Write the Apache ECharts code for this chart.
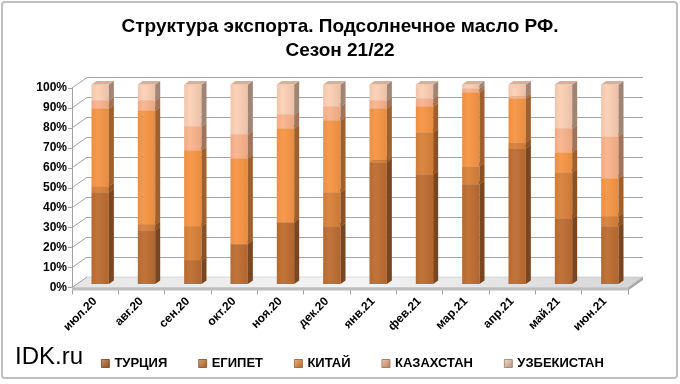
<!DOCTYPE html>
<html><head><meta charset="utf-8">
<script src="https://cdn.jsdelivr.net/npm/echarts@6/dist/echarts.min.js"></script>
<style>html,body{margin:0;padding:0;background:#fff}#c{width:680px;height:384px}</style>
</head><body><div id="c"></div><script>
// ---- data ----
const categories = ['июл.20','авг.20','сен.20','окт.20','ноя.20','дек.20','янв.21','фев.21','мар.21','апр.21','май.21','июн.21'];
const seriesNames = ['ТУРЦИЯ','ЕГИПЕТ','КИТАЙ','КАЗАХСТАН','УЗБЕКИСТАН'];
const turkey     = [46,27,12,20,31,29,61,55,50,68,33,29];
const egypt      = [3, 3, 17,0, 0, 17,1, 21,9, 3, 23,5];
const china      = [39,57,38,43,47,36,26,13,37,22,10,19];
const kazakhstan = [4, 5, 12,12,7, 7, 4, 4, 2, 1, 12,21];
const uzbekistan = [8, 8, 21,25,15,11,8, 7, 2, 6, 22,26];
const yTicks = [0,10,20,30,40,50,60,70,80,90,100];
const titleLines = ['Структура экспорта. Подсолнечное масло РФ.','Сезон 21/22'];
const brand = 'IDK.ru';

// ---- style ----
const colors = ['#BE6E32','#D9823A','#F79646','#FAB48C','#FCD0B5'];
const FONT = '"Liberation Sans", Arial, sans-serif';
const DEPTH = {dx:15, dy:-10.5};
const BAR = {ox:5, oy:-3.5, dx:5, dy:-3.5, wRatio:0.375};
const GRID = {left:72, top:88, width:556, height:199.5};

function shade(hex, f){
  const n = parseInt(hex.slice(1),16);
  let r=(n>>16)&255, g=(n>>8)&255, b=n&255;
  if (f<=1){ r=r*f; g=g*f; b=b*f; }
  else { const t=f-1; r=r+(255-r)*t; g=g+(255-g)*t; b=b+(255-b)*t; }
  const h=v=>Math.max(0,Math.min(255,Math.round(v))).toString(16).padStart(2,'0');
  return '#'+h(r)+h(g)+h(b);
}

const values = [turkey, egypt, china, kazakhstan, uzbekistan];
const cum = categories.map(()=>0);
const stacked = values.map(arr => arr.map((v,i)=>{ const b=cum[i]; cum[i]+=v; return [i,b,cum[i]]; }));

function barRender(si){
  const c = colors[si];
  return function(params, api){
    const cs = params.coordSys;
    const band = cs.width/categories.length;
    const w = band*BAR.wRatio;
    const i = api.value(0), b = api.value(1), t = api.value(2);
    if (t-b <= 0.001) return null;
    const p0 = api.coord([i,b]), p1 = api.coord([i,t]);
    const x = p0[0]-w/2+BAR.ox, yb = p0[1]+BAR.oy, yt = p1[1]+BAR.oy;
    return {type:'group', children:[
      {type:'rect', shape:{x:x, y:yt, width:w, height:yb-yt},
        style:{fill:new echarts.graphic.LinearGradient(0,0,1,0,[
          {offset:0,color:shade(c,0.95)},{offset:0.35,color:shade(c,1.04)},{offset:1,color:shade(c,0.93)}])}},
      {type:'polygon', shape:{points:[[x+w,yt],[x+w+BAR.dx,yt+BAR.dy],[x+w+BAR.dx,yb+BAR.dy],[x+w,yb]]},
        style:{fill:shade(c,0.64)}},
      {type:'polygon', shape:{points:[[x,yt],[x+BAR.dx,yt+BAR.dy],[x+w+BAR.dx,yt+BAR.dy],[x+w,yt]]},
        style:{fill:shade(c,0.85)}}
    ]};
  };
}

function decorRender(params, api){
  const cs = params.coordSys;
  const L = cs.x, R = cs.x+cs.width, B = cs.y+cs.height;
  const ch = [];
  ch.push({type:'polygon', shape:{points:[[L,B],[R,B],[R+DEPTH.dx,B+DEPTH.dy],[L+DEPTH.dx,B+DEPTH.dy]]},
    style:{fill:new echarts.graphic.LinearGradient(0,0,1,1,[
      {offset:0,color:'#e6e6e6'},{offset:0.5,color:'#f4f4f4'},{offset:1,color:'#d4d4d4'}]), stroke:'#c8c8c8', lineWidth:0.6}});
  ch.push({type:'polygon', shape:{points:[[L,B],[R,B],[R,B+3],[L,B+3]]}, style:{fill:'#bdbdbd'}});
  ch.push({type:'polygon', shape:{points:[[R,B],[R+DEPTH.dx,B+DEPTH.dy],[R+DEPTH.dx,B+DEPTH.dy+3],[R,B+3]]}, style:{fill:'#a8a8a8'}});
  yTicks.forEach(v=>{
    const p = api.coord([0,v]);
    ch.push({type:'line', shape:{x1:L, y1:p[1], x2:L+DEPTH.dx, y2:p[1]+DEPTH.dy}, style:{stroke:'#a0a0a0', lineWidth:1}});
  });
  return {type:'group', children:ch};
}

const chart = echarts.init(document.getElementById('c'), null, {renderer:'canvas'});
const legendIcon = c => new echarts.graphic.LinearGradient(0,0,1,1,[{offset:0,color:shade(c,1.25)},{offset:1,color:shade(c,0.7)}]);

chart.setOption({
  animation:false,
  title:{text:titleLines.join('\n'), left:'center', top:10,
    textStyle:{fontFamily:FONT, fontSize:19, fontWeight:'bold', color:'#000', lineHeight:24}},
  graphic:[
    {type:'rect', shape:{x:2, y:2, width:675, height:376, r:3}, style:{fill:'none', stroke:'#bfbfbf', lineWidth:2}, silent:true, z:-1},
    {type:'text', left:15, top:345, style:{text:brand, fontFamily:FONT, fontSize:24, fill:'#000'}}
  ],
  legend:{left:96, top:352, itemWidth:8, itemHeight:8, itemGap:31, icon:'rect',
    textStyle:{fontFamily:FONT, fontSize:13, fontWeight:'bold', color:'#000'},
    data: seriesNames.map((n,i)=>({name:n, itemStyle:{color:legendIcon(colors[i]), borderColor:shade(colors[i],0.6), borderWidth:0.8}}))},
  grid:[
    {left:GRID.left, top:GRID.top, width:GRID.width, height:GRID.height},
    {left:GRID.left+DEPTH.dx, top:GRID.top+DEPTH.dy, width:GRID.width, height:GRID.height}
  ],
  xAxis:[
    {type:'category', gridIndex:0, data:categories, boundaryGap:true,
      axisLine:{show:false}, axisTick:{show:true, length:7, lineStyle:{color:'#a0a0a0'}},
      axisLabel:{rotate:45, margin:12, fontFamily:FONT, fontSize:12, fontWeight:'bold', color:'#000'}},
    {type:'category', gridIndex:1, data:categories, show:false}
  ],
  yAxis:[
    {type:'value', gridIndex:0, min:0, max:100, interval:10,
      axisLine:{show:true, lineStyle:{color:'#a0a0a0'}}, axisTick:{show:true, length:4, lineStyle:{color:'#a0a0a0'}},
      splitLine:{show:false},
      axisLabel:{formatter:'{value}%', margin:5, fontFamily:FONT, fontSize:12, fontWeight:'bold', color:'#000'}},
    {type:'value', gridIndex:1, min:0, max:100, interval:10,
      axisLine:{show:false}, axisTick:{show:false}, axisLabel:{show:false},
      splitLine:{show:true, lineStyle:{color:'#a6a6a6', width:1}}}
  ],
  series:[
    {type:'custom', name:'_decor', xAxisIndex:0, yAxisIndex:0, silent:true, z:1, data:[[0]], renderItem:decorRender},
    ...seriesNames.map((n,si)=>({type:'custom', name:n, xAxisIndex:0, yAxisIndex:0, z:3+si,
      itemStyle:{color:colors[si]}, encode:{x:0, y:2}, data:stacked[si], renderItem:barRender(si)}))
  ]
});
</script></body></html>
